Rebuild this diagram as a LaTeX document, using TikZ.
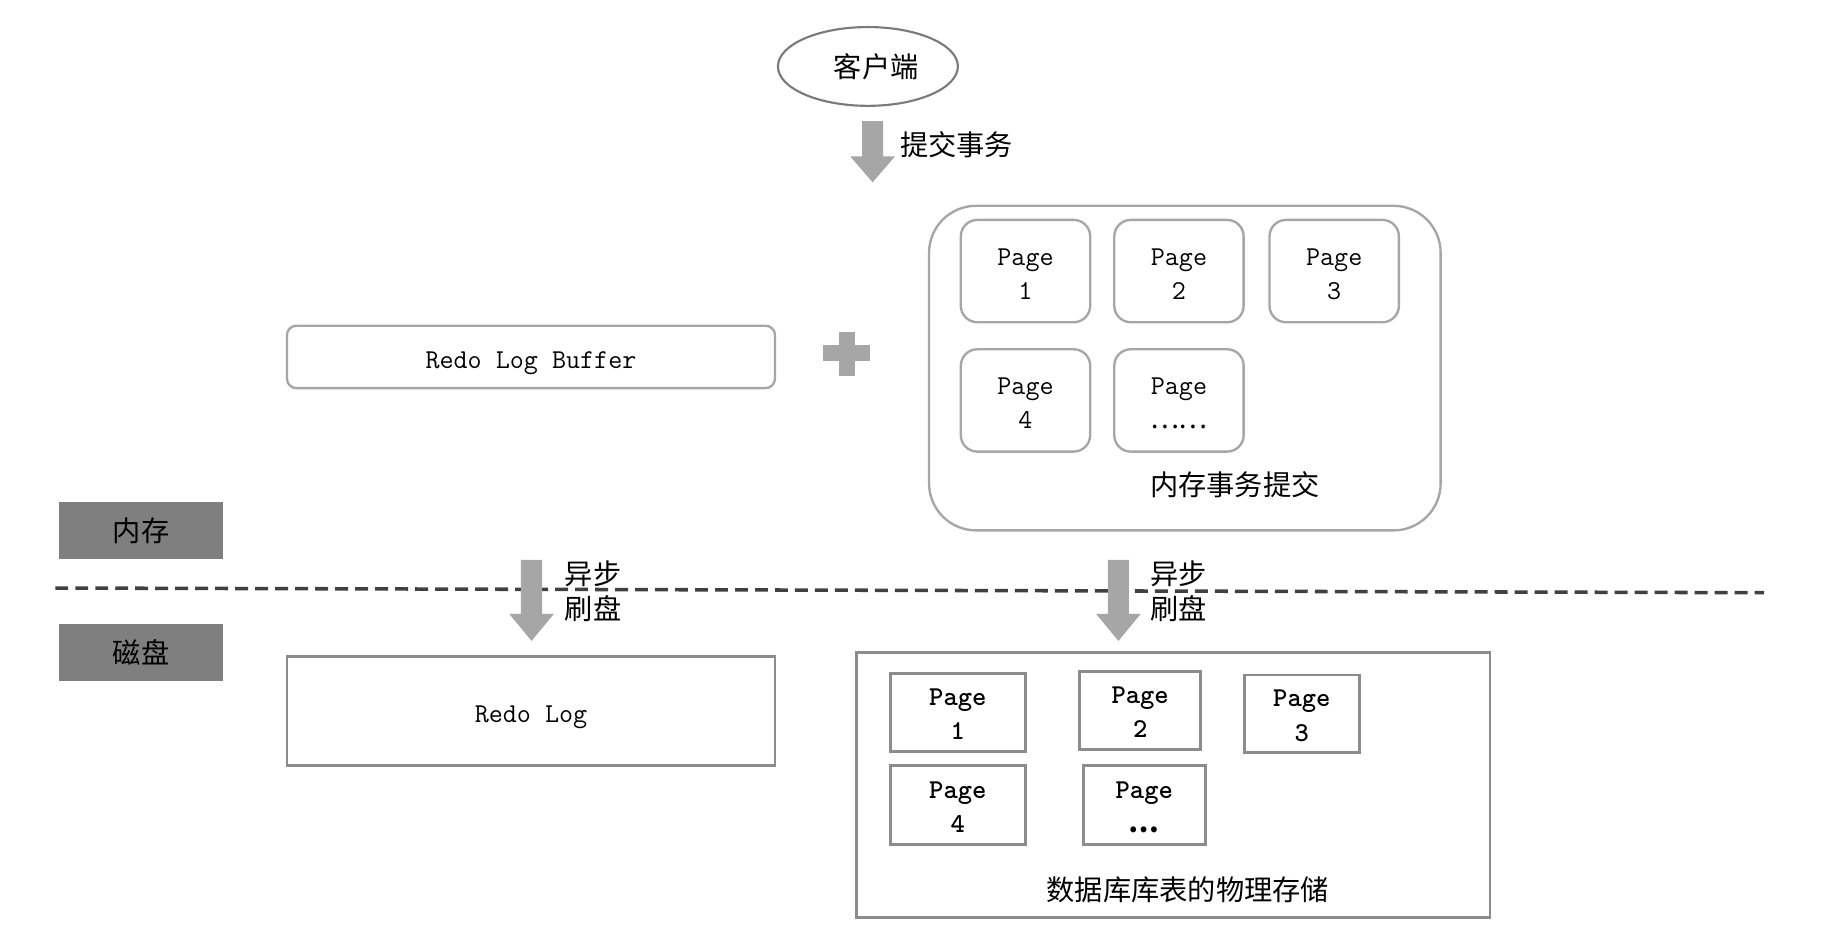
\documentclass[tikz,border=0pt]{standalone}
\usepackage{fontspec}
\newfontfamily\cjk{Noto Sans CJK SC}
\usetikzlibrary{shapes.geometric}
\definecolor{boxgrey}{HTML}{A6A6A6}
\definecolor{rectgrey}{HTML}{8C8C8C}
\definecolor{labelfill}{HTML}{7F7F7F}
\definecolor{arrowgrey}{HTML}{A6A6A6}
\definecolor{dashgrey}{HTML}{404040}
\definecolor{ellgrey}{HTML}{7A7A7A}
\newcommand{\shiftdown}[2]{\raisebox{-#1}[\height][\depth]{#2}}
\newcommand{\pagelines}[2]{\shiftdown{#1}{\begin{tabular}{@{}c@{}}Page\\[0.5pt]#2\end{tabular}}}
\tikzset{
  cjktext/.style={font=\cjk\fontsize{12}{14}\selectfont, inner sep=0pt},
  lattext/.style={font=\ttfamily\fontsize{11.6}{14}\selectfont},
  roundbox/.style={draw=boxgrey, line width=1pt, fill=white, rounded corners=4pt, inner sep=0pt, lattext},
  mempage/.style={draw=boxgrey, line width=1pt, rounded corners=7pt, minimum width=55pt, minimum height=43.5pt, inner sep=0pt, align=center, lattext},
  diskpage/.style={draw=rectgrey, line width=1.2pt, minimum height=33pt, inner sep=0pt, align=center, font=\ttfamily\bfseries\fontsize{11.6}{14}\selectfont},
  sidelabel/.style={fill=labelfill, minimum width=70pt, minimum height=24pt, inner sep=0pt, cjktext},
  sepline/.style={draw=dashgrey, line width=1.5pt, dash pattern=on 5.5pt off 3pt},
}
\newcommand{\blockarrow}[4]{%
  \fill[arrowgrey] ({#1-9},#2) -- ({#1+9},#2) -- ({#1+9},#3) -- ({#1+19},#3) -- (#1,#4) -- ({#1-19},#3) -- ({#1-9},#3) -- cycle;}
\begin{document}
\begin{tikzpicture}[x=0.5pt,y=-0.5pt]
\useasboundingbox (0,0) rectangle (1568,797.6);
% client
\node[ellipse, draw=ellgrey, line width=0.9pt, minimum width=76.5pt, minimum height=33.5pt, inner sep=0pt] (client) at (738,56.5) {};
\node[cjktext] (clienttext) at (745,57) {客户端};
% arrow 1
\blockarrow{742}{103}{133}{155}
\node[cjktext, anchor=west] (commit) at (765,123) {提交事务};
% redo log buffer
\node[roundbox, minimum width=207.5pt, minimum height=26.5pt] (rlb) at (451.5,303.5) {\shiftdown{2.5pt}{Redo Log Buffer}};
% plus
\fill[arrowgrey] (713,282) rectangle (727,320);
\fill[arrowgrey] (700,293) rectangle (740,307);
% memory container
\node[draw=boxgrey, line width=1pt, rounded corners=20pt, minimum width=217.5pt, minimum height=138pt, inner sep=0pt] (memc) at (1007.5,313) {};
\node[mempage] (m1) at (872,230.5) {\pagelines{2pt}{1}};
\node[mempage] (m2) at (1002.5,230.5) {\pagelines{2pt}{2}};
\node[mempage] (m3) at (1134.5,230.5) {\pagelines{2pt}{3}};
\node[mempage] (m4) at (872,340.5) {\pagelines{2pt}{4}};
\node[mempage] (m5) at (1002.5,340.5) {\pagelines{2pt}{{\cjk ……}}};
\node[cjktext] (memlabel) at (1050,412) {内存事务提交};
% side labels
\node[sidelabel] (mem) at (120,451) {内存};
\node[sidelabel] (disk) at (120,555) {磁盘};
% separator
\coordinate (sepL) at (47,500);
\coordinate (sepR) at (1500,504);
\draw[sepline] (sepL) -- (sepR);
% arrows 2, 3
\blockarrow{452}{476}{522}{545}
\node[cjktext, anchor=west, align=left] (flush1) at (480,503) {异步\\[1pt]刷盘};
\blockarrow{951}{476}{522}{545}
\node[cjktext, anchor=west, align=left] (flush2) at (978,503) {异步\\[1pt]刷盘};
% disk
\node[draw=rectgrey, line width=1.2pt, minimum width=207.5pt, minimum height=46.5pt, inner sep=0pt, lattext] (rl) at (451.5,604.5) {\shiftdown{2.5pt}{Redo Log}};
\node[draw=rectgrey, line width=1.2pt, minimum width=269.5pt, minimum height=112.5pt, inner sep=0pt] (store) at (997.5,667.5) {};
\node[diskpage, minimum width=57.5pt] (d1) at (814.5,606) {\pagelines{1.5pt}{1}};
\node[diskpage, minimum width=51.5pt] (d2) at (969.5,604) {\pagelines{1.5pt}{2}};
\node[diskpage, minimum width=49pt] (d3) at (1107,607) {\pagelines{1.5pt}{3}};
\node[diskpage, minimum width=57.5pt, minimum height=33.5pt] (d4) at (814.5,684.5) {\pagelines{1.5pt}{4}};
\node[diskpage, minimum width=52pt, minimum height=33.5pt] (d5) at (973,684.5) {\pagelines{1.5pt}{{\cjk\bfseries …}}};
\node[cjktext] (storelabel) at (1010,757) {数据库库表的物理存储};
\end{tikzpicture}
\end{document}
